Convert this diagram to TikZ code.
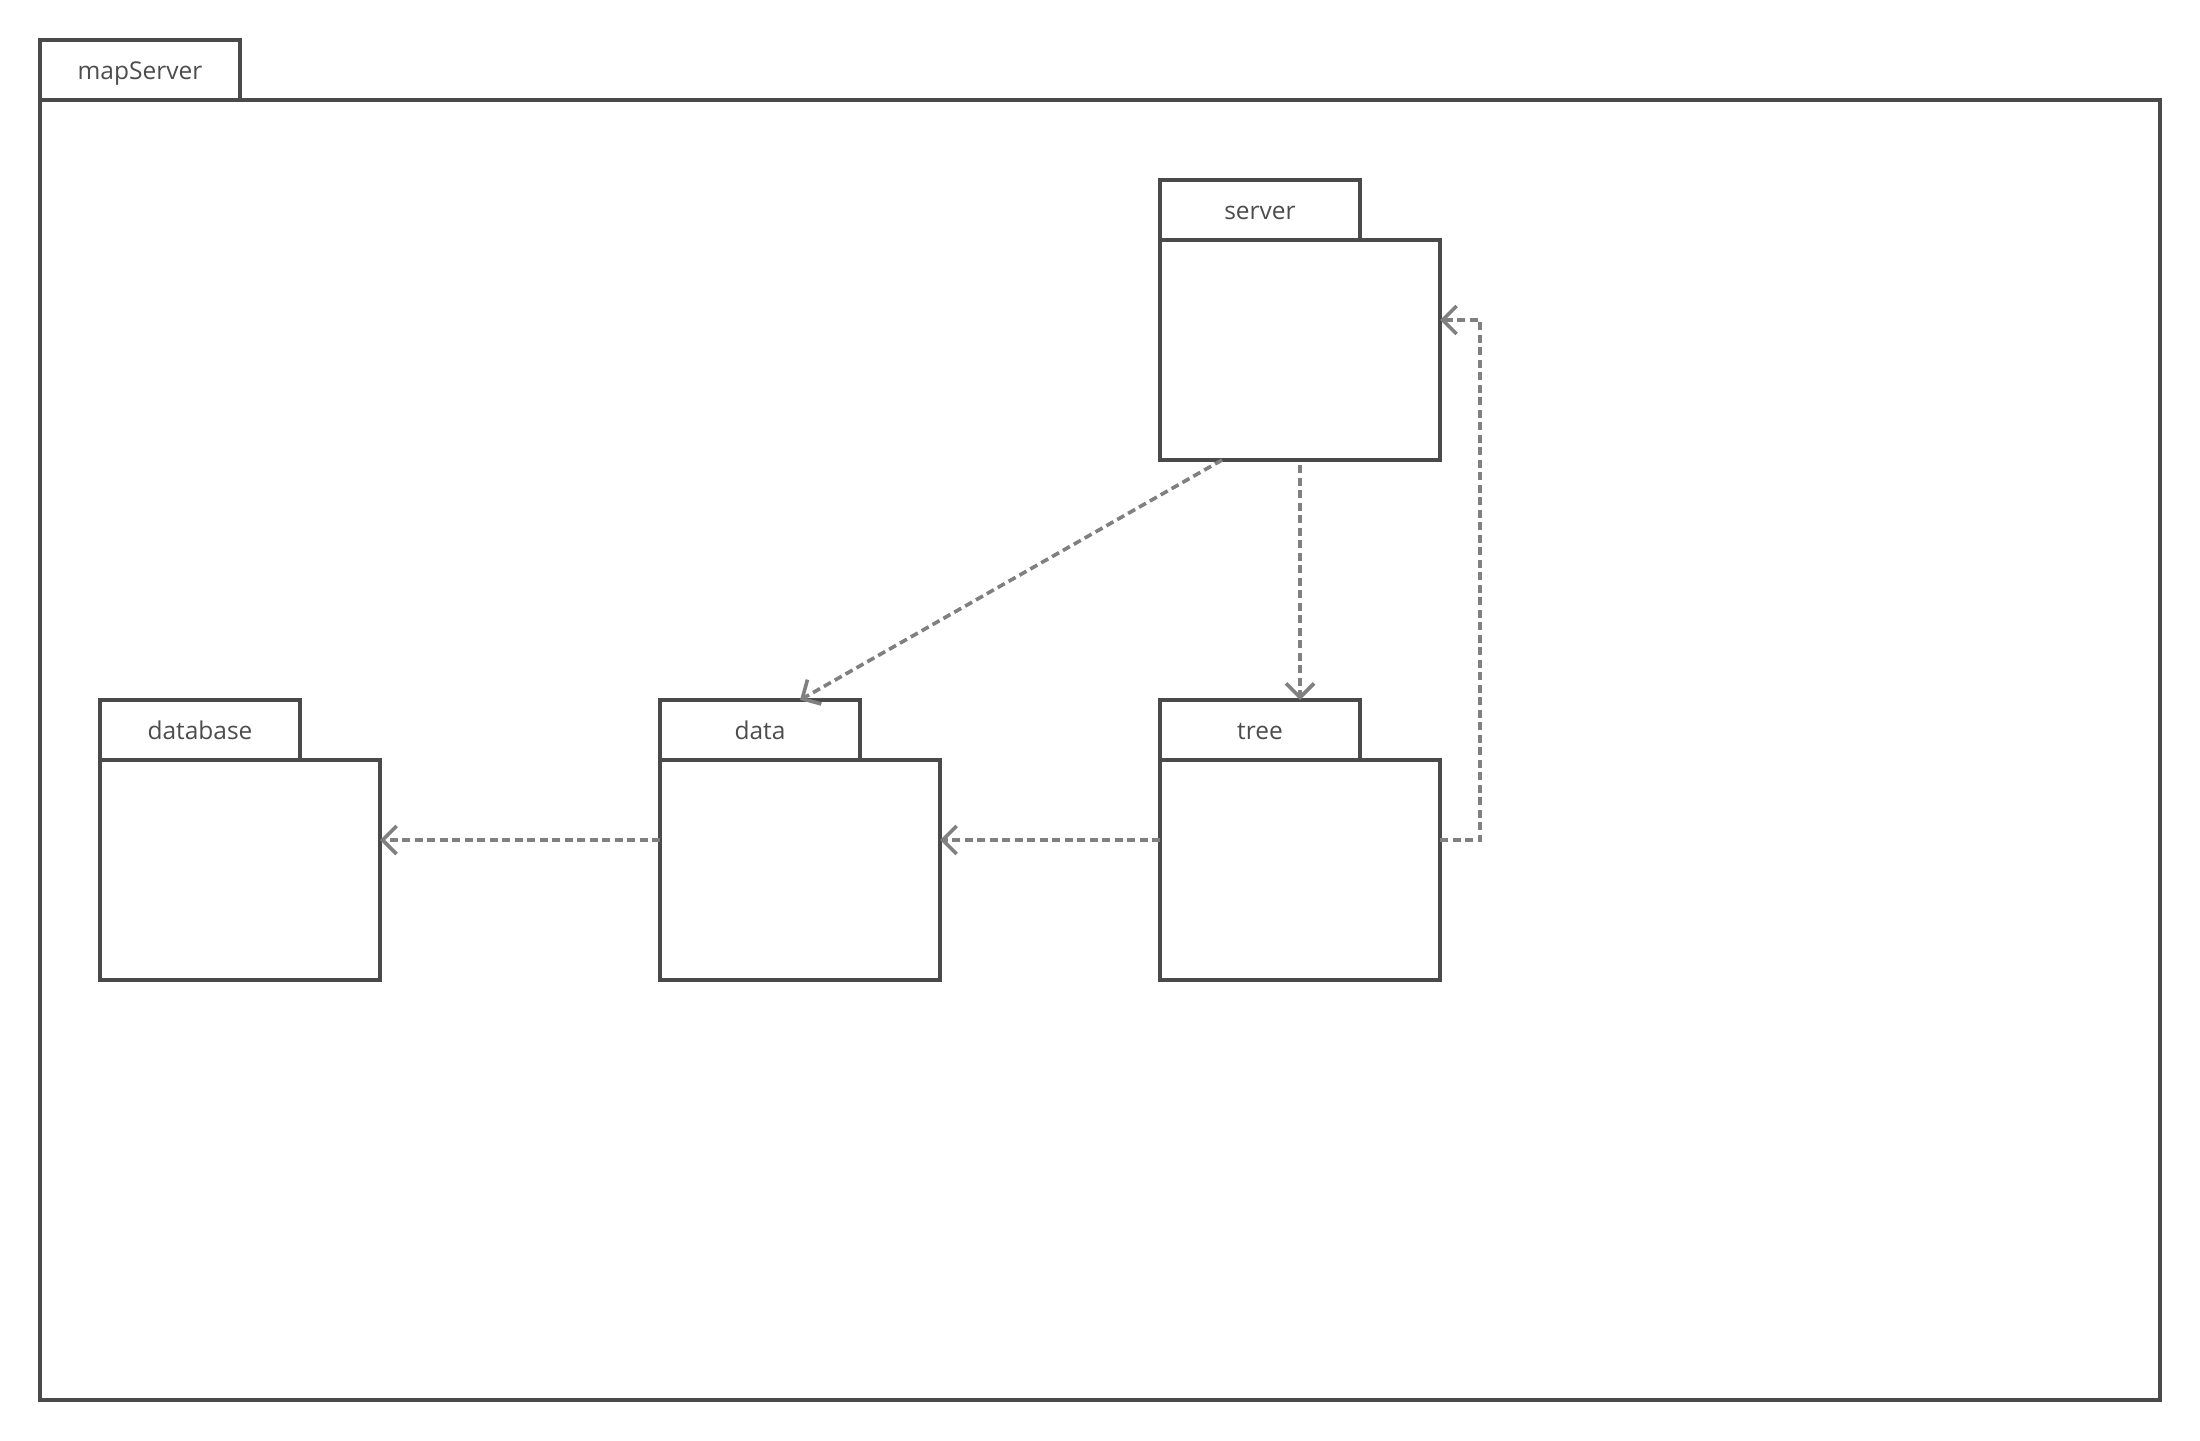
\documentclass[tikz,border=0pt]{standalone}
\usepackage{fontspec}
\setmainfont{Open Sans}
\usetikzlibrary{arrows.meta}
\definecolor{edge}{HTML}{4A4A4A}
\definecolor{dep}{HTML}{808080}
\definecolor{label}{HTML}{4D4D4D}
\tikzset{
  pkgtab/.style={draw=edge, line width=3.2pt, fill=white, rectangle, inner sep=0pt, outer sep=0pt,
    minimum width=200pt, minimum height=60pt, anchor=north west,
    text height=18pt, text depth=0pt,
    font=\fontsize{24.5}{29}\selectfont, text=label},
  pkgbody/.style={draw=edge, line width=3.2pt, fill=white, rectangle, inner sep=0pt, outer sep=0pt,
    minimum width=280pt, minimum height=220pt, anchor=north west},
  depline/.style={draw=dep, line width=3.6pt, dash pattern=on 8pt off 4.5pt,
    -{Straight Barb[length=14pt, width=28pt, line width=3.6pt]}},
}
\begin{document}
\begin{tikzpicture}[x=1pt, y=-1pt]
  \useasboundingbox (0,0) rectangle (2200,1440);
  \fill[white] (0,0) rectangle (2200,1440);

  % enclosing package
  \node[pkgtab] (mapT) at (40,40) {mapServer};
  \node[pkgbody, minimum width=2120pt, minimum height=1300pt] (mapB) at (40,100) {};

  % inner packages
  \node[pkgtab] (serverT) at (1160,180) {server};
  \node[pkgbody] (serverB) at (1160,240) {};

  \node[pkgtab] (databaseT) at (100,700) {database};
  \node[pkgbody] (databaseB) at (100,760) {};

  \node[pkgtab] (dataT) at (660,700) {data};
  \node[pkgbody] (dataB) at (660,760) {};

  \node[pkgtab] (treeT) at (1160,700) {tree};
  \node[pkgbody] (treeB) at (1160,760) {};

  % dependencies
  \draw[depline] ([xshift=62pt]serverB.south west) -- ([xshift=40pt]dataT.north);
  \draw[depline, shorten <=5pt] (serverB.south) -- (serverB.south |- treeT.north);
  \draw[depline] ([yshift=30pt]treeB.west) -- ([yshift=30pt]dataB.east);
  \draw[depline] ([yshift=30pt]dataB.west) -- ([yshift=30pt]databaseB.east);
  \draw[depline] ([yshift=30pt]treeB.east) -- ++(40,0) |- ([yshift=30pt]serverB.east);
\end{tikzpicture}
\end{document}
